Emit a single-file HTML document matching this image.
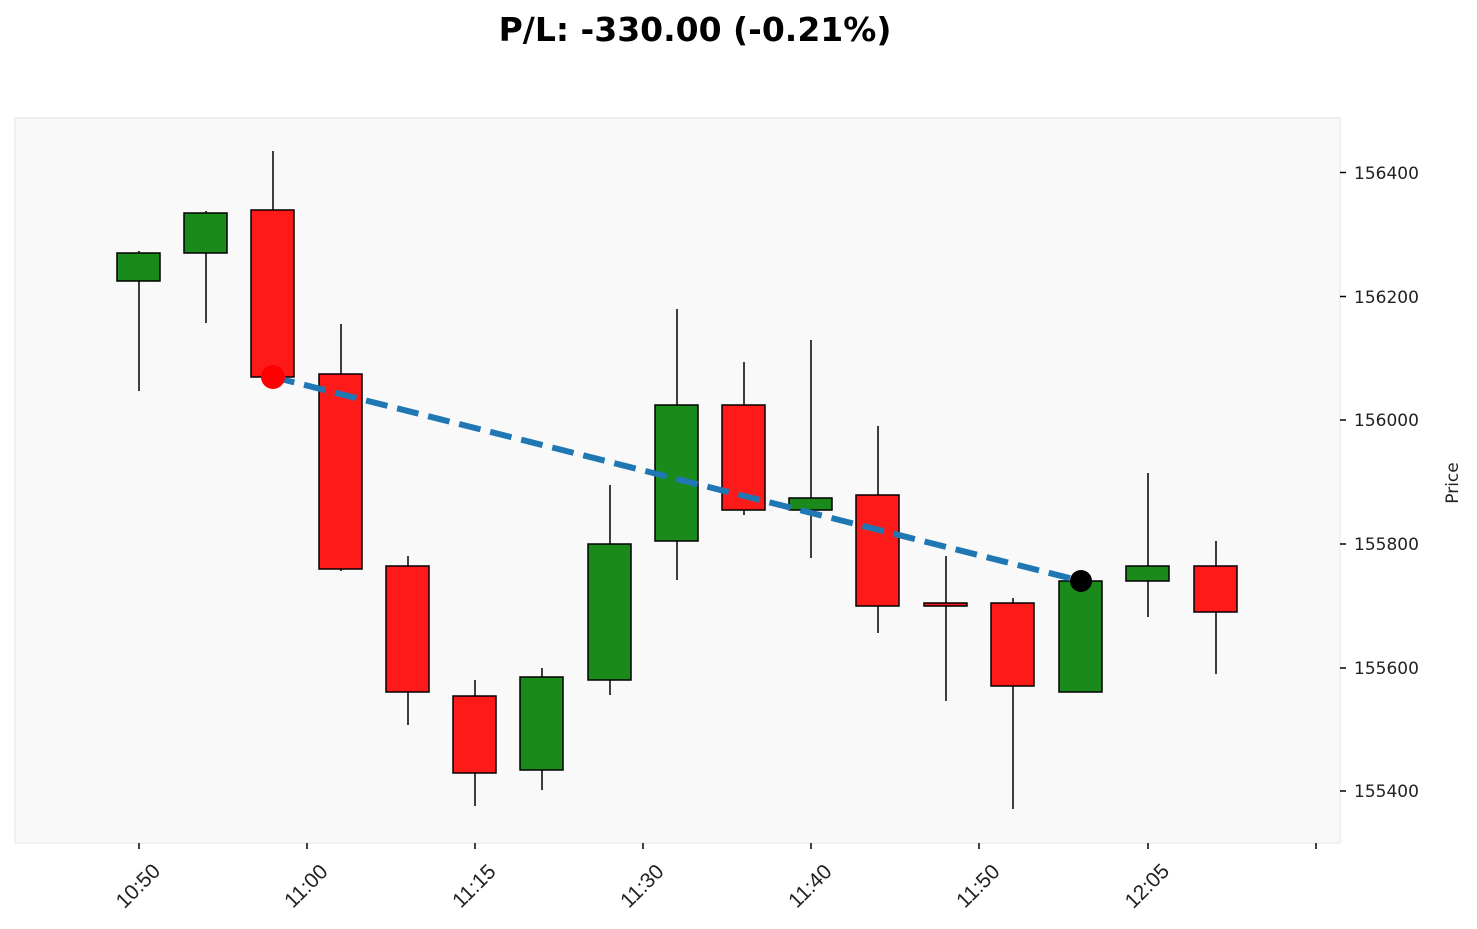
<!DOCTYPE html>
<html><head><meta charset="utf-8"><style>body{margin:0;background:#fff}svg{display:block;font-family:"Liberation Sans","DejaVu Sans",sans-serif}</style></head><body>
<svg width="1477" height="929" xmlns="http://www.w3.org/2000/svg">
<text x="695" y="41" text-anchor="middle" font-size="33" font-weight="bold" font-family="DejaVu Sans, Liberation Sans, sans-serif">P/L: -330.00 (-0.21%)</text>
<rect x="15" y="118" width="1325" height="725" fill="#f9f9f9" stroke="#ececec" stroke-width="1.5"/>
<g stroke="#000" stroke-width="1.5">
<line x1="1340" y1="172.5" x2="1346" y2="172.5"/><line x1="1340" y1="296.5" x2="1346" y2="296.5"/><line x1="1340" y1="420" x2="1346" y2="420"/><line x1="1340" y1="544" x2="1346" y2="544"/><line x1="1340" y1="668" x2="1346" y2="668"/><line x1="1340" y1="791" x2="1346" y2="791"/>
<line x1="139" y1="843" x2="139" y2="849"/><line x1="307" y1="843" x2="307" y2="849"/><line x1="475" y1="843" x2="475" y2="849"/><line x1="643" y1="843" x2="643" y2="849"/><line x1="811" y1="843" x2="811" y2="849"/><line x1="979" y1="843" x2="979" y2="849"/><line x1="1148" y1="843" x2="1148" y2="849"/><line x1="1316" y1="843" x2="1316" y2="849"/>
</g>
<g font-size="17" fill="#222" font-family="DejaVu Sans, Liberation Sans, sans-serif">
<text x="1354" y="179">156400</text><text x="1354" y="303">156200</text><text x="1354" y="426">156000</text><text x="1354" y="550">155800</text><text x="1354" y="674">155600</text><text x="1354" y="797">155400</text>
<text transform="translate(1458,483) rotate(-90)" text-anchor="middle">Price</text>
</g>
<g font-size="21" fill="#222" text-anchor="middle" font-family="Liberation Sans, sans-serif">
<text transform="translate(138,886) rotate(-45)" y="7">10:50</text>
<text transform="translate(306,886) rotate(-45)" y="7">11:00</text>
<text transform="translate(474,886) rotate(-45)" y="7">11:15</text>
<text transform="translate(642,886) rotate(-45)" y="7">11:30</text>
<text transform="translate(810,886) rotate(-45)" y="7">11:40</text>
<text transform="translate(978,886) rotate(-45)" y="7">11:50</text>
<text transform="translate(1147,886) rotate(-45)" y="7">12:05</text>
</g>
<g stroke="#000" stroke-width="1.5">
<line x1="139" y1="251" x2="139" y2="391"/><rect x="117" y="253" width="43" height="28" fill="#1a8a1a"/>
<line x1="206" y1="211" x2="206" y2="323"/><rect x="184" y="213" width="43" height="40" fill="#1a8a1a"/>
<line x1="273" y1="151" x2="273" y2="388"/><rect x="251" y="210" width="43" height="167" fill="#ff1a1a"/>
<line x1="341" y1="324" x2="341" y2="571"/><rect x="319" y="374" width="43" height="195" fill="#ff1a1a"/>
<line x1="408" y1="556" x2="408" y2="725"/><rect x="386" y="566" width="43" height="126" fill="#ff1a1a"/>
<line x1="475" y1="680" x2="475" y2="806"/><rect x="453" y="696" width="43" height="77" fill="#ff1a1a"/>
<line x1="542" y1="668" x2="542" y2="790"/><rect x="520" y="677" width="43" height="93" fill="#1a8a1a"/>
<line x1="610" y1="485" x2="610" y2="695"/><rect x="588" y="544" width="43" height="136" fill="#1a8a1a"/>
<line x1="677" y1="309" x2="677" y2="580"/><rect x="655" y="405" width="43" height="136" fill="#1a8a1a"/>
<line x1="744" y1="362" x2="744" y2="515"/><rect x="722" y="405" width="43" height="105" fill="#ff1a1a"/>
<line x1="811" y1="340" x2="811" y2="558"/><rect x="789" y="498" width="43" height="12" fill="#1a8a1a"/>
<line x1="878" y1="426" x2="878" y2="633"/><rect x="856" y="495" width="43" height="111" fill="#ff1a1a"/>
<line x1="946" y1="556" x2="946" y2="701"/><rect x="924" y="603" width="43" height="3" fill="#ff1a1a"/>
<line x1="1013" y1="598" x2="1013" y2="809"/><rect x="991" y="603" width="43" height="83" fill="#ff1a1a"/>
<line x1="1081" y1="581" x2="1081" y2="692"/><rect x="1059" y="581" width="43" height="111" fill="#1a8a1a"/>
<line x1="1148" y1="473" x2="1148" y2="617"/><rect x="1126" y="566" width="43" height="15" fill="#1a8a1a"/>
<line x1="1216" y1="541" x2="1216" y2="674"/><rect x="1194" y="566" width="43" height="46" fill="#ff1a1a"/>
</g>
<line x1="273" y1="377" x2="1081" y2="581" stroke="#1f77b4" stroke-width="6" stroke-dasharray="22,10"/>
<circle cx="273" cy="377" r="12" fill="#ff0000"/>
<circle cx="1081" cy="581" r="11" fill="#000"/>
</svg>
</body></html>
